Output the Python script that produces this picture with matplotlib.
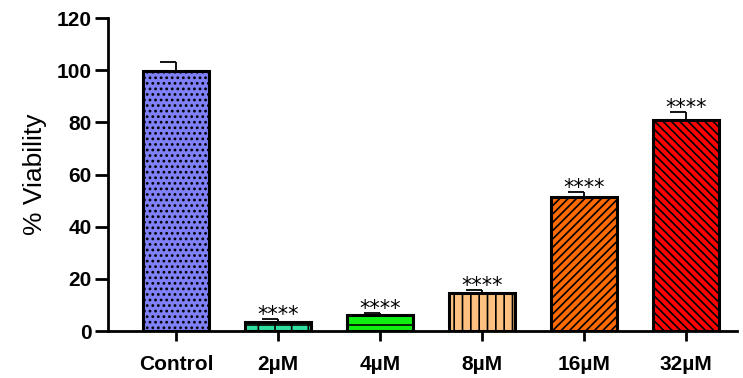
import matplotlib.pyplot as plt
import numpy as np

plt.rcParams['font.family'] = ['Liberation Sans', 'DejaVu Sans']
plt.rcParams['hatch.linewidth'] = 1.2

# dati
groups = ['Control', '2µM', '4µM', '8µM', '16µM', '32µM']
viability = [99.7, 3.4, 6.0, 14.5, 51.4, 80.9]
err = [3.3, 1.2, 1.0, 1.2, 1.9, 3.1]
stars = ['', '****', '****', '****', '****', '****']
colors = ['#8080F8', '#30E0A0', '#10F010', '#FFC080', '#FF6A00', '#FF0000']
hatches = ['...', '+', '-', '||', '////', '\\\\\\\\']

fig = plt.figure(figsize=(7.43, 3.78), dpi=100)
ax = fig.add_axes([0.145, 0.124, 0.847, 0.828])

x = np.arange(len(groups))
for i in range(len(groups)):
    ax.bar(x[i], viability[i], width=0.65, color=colors[i], edgecolor='black',
           linewidth=2.2, hatch=hatches[i], zorder=2)

# barre d'errore (solo sopra, cap a sinistra)
top = np.array(viability) + np.array(err)
ax.vlines(x, viability, top, color='black', linewidth=1.3, zorder=1)
ax.hlines(top, x - 0.16, x, color='black', linewidth=1.3, zorder=1)

for i in range(len(groups)):
    if stars[i]:
        ax.annotate(stars[i], (x[i], top[i]), xytext=(0, -1.5), textcoords='offset points',
                    ha='center', va='baseline', fontsize=15, family='DejaVu Sans')

ax.set_xlim(-0.67, 5.5)
ax.set_ylim(0, 120)
ax.set_yticks(range(0, 121, 20))
ax.set_xticks(x)
ax.set_xticklabels(groups, fontsize=15, fontweight='bold')
for lab in ax.get_yticklabels():
    lab.set_fontsize(15)
    lab.set_fontweight('bold')
ax.set_ylabel('% Viability', fontsize=19, labelpad=7)

ax.spines['top'].set_visible(False)
ax.spines['right'].set_visible(False)
ax.spines['left'].set_linewidth(2)
ax.spines['bottom'].set_linewidth(2)
ax.tick_params(axis='both', width=2, direction='out')
ax.tick_params(axis='y', length=9.5, pad=2)
ax.tick_params(axis='x', length=7, pad=10)

fig.savefig('out.png', dpi=100)
